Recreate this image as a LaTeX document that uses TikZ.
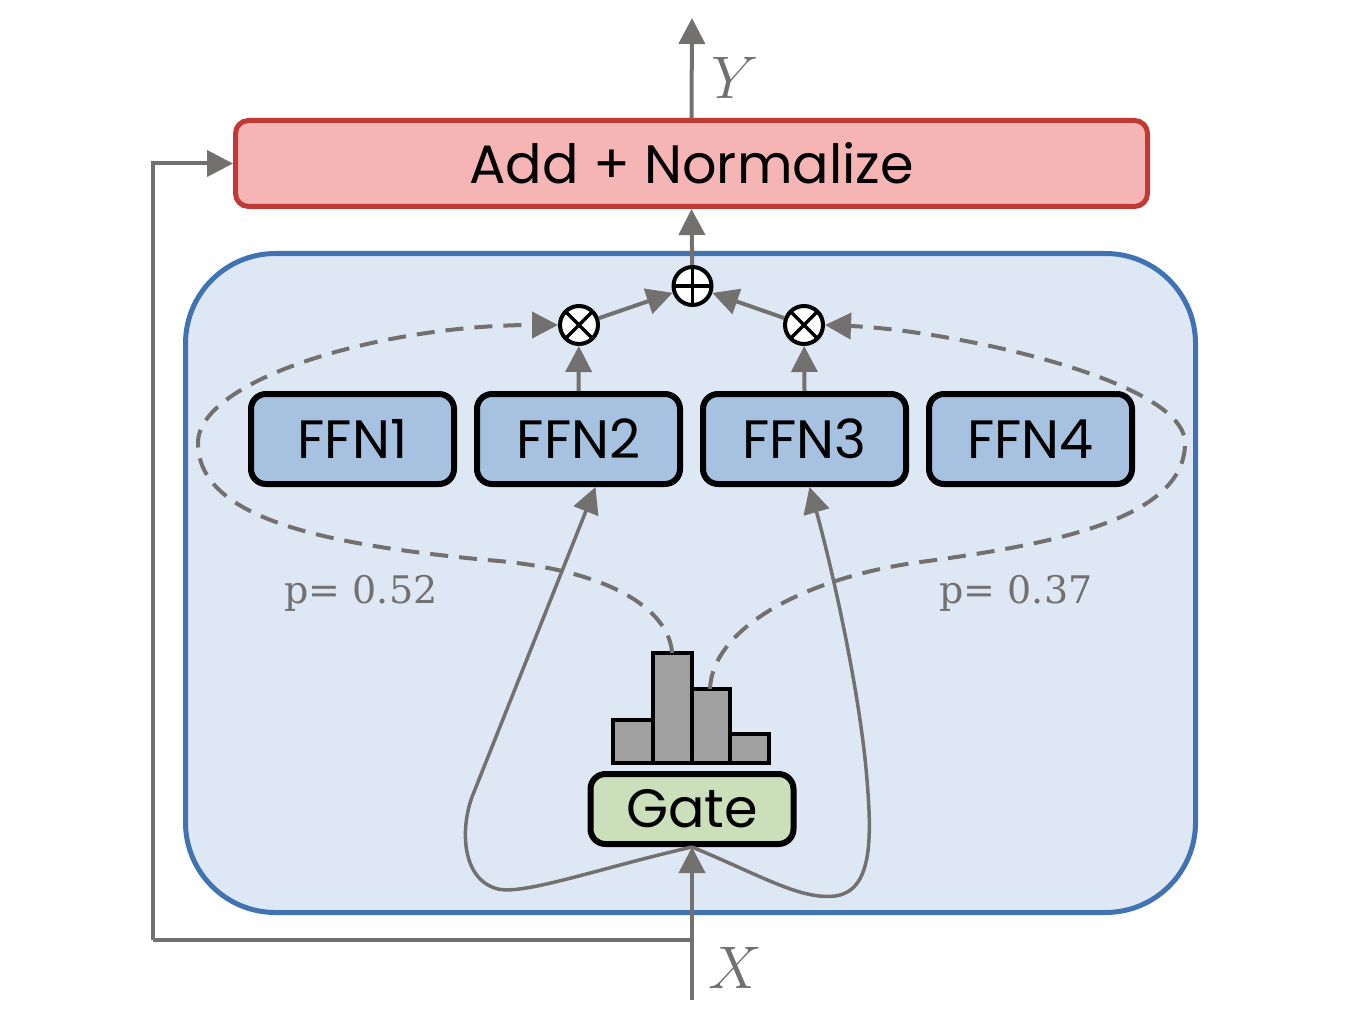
\documentclass[tikz,border=0pt]{standalone}
\usepackage{fontspec}
\newfontfamily\futura{Poppins}
\newfontfamily\pfont{DejaVu Serif}
\usetikzlibrary{arrows.meta}
\definecolor{linegray}{RGB}{115,112,112}
\definecolor{addred}{RGB}{192,57,52}
\definecolor{addfill}{RGB}{245,181,180}
\definecolor{moeblue}{RGB}{65,115,178}
\definecolor{moefill}{RGB}{222,232,245}
\definecolor{ffnfill}{RGB}{166,194,224}
\definecolor{gatefill}{RGB}{203,223,186}
\definecolor{bargray}{RGB}{160,160,160}
\begin{document}
\begin{tikzpicture}[x=1pt,y=-1pt,
  conn/.style={draw=linegray, line width=4pt, -{Triangle[length=26pt,width=26pt]}},
  route/.style={conn, dash pattern=on 18pt off 11pt},
  ffnbox/.style={draw=black, line width=6pt, fill=ffnfill, rounded corners=15pt,
    minimum width=203pt, minimum height=90pt, font=\futura\fontsize{54}{60}\selectfont},
  mult/.style={circle, draw=black, line width=4pt, fill=white, minimum size=38pt, inner sep=0pt},
  lbl/.style={text=linegray, font=\pfont\fontsize{38}{44}\selectfont},
  var/.style={text=linegray, font=\fontsize{20}{24}\selectfont}]
\useasboundingbox (0,0) rectangle (1356,1024);
% MoE block
\draw[moeblue, fill=moefill, line width=5pt, rounded corners=90pt] (185.5,253.5) rectangle (1195.5,912.5);
\node[draw=addred, fill=addfill, line width=5pt, rounded corners=13pt, minimum width=912pt, minimum height=86pt,
  font=\futura\fontsize{54}{60}\selectfont] (add) at (691.5,163.5) {Add + Normalize};
\foreach \i/\x in {1/352.5,2/578.5,3/804.5,4/1030.5}
  \node[ffnbox] (ffn\i) at (\x,439) {FFN\i};
\node[ffnbox, fill=gatefill, minimum height=70pt] (gate) at (692,809) {Gate};
% histogram of gate probabilities
\foreach \a/\b/\t in {613/653/720,653/692/653,692/730/689,730/769/734}
  \draw[black, fill=bargray, line width=4pt] (\a,763) rectangle (\b,\t);
\coordinate (b2) at (672,653);
\coordinate (b3) at (710,689);
\node[mult, path picture={\draw[line width=3.5pt] (path picture bounding box.north west) -- (path picture bounding box.south east)
  (path picture bounding box.south west) -- (path picture bounding box.north east);}] (mulL) at (579,325) {};
\node[mult, path picture={\draw[line width=3.5pt] (path picture bounding box.north west) -- (path picture bounding box.south east)
  (path picture bounding box.south west) -- (path picture bounding box.north east);}] (mulR) at (804,325) {};
\node[mult, path picture={\draw[line width=3.5pt] (path picture bounding box.north) -- (path picture bounding box.south)
  (path picture bounding box.west) -- (path picture bounding box.east);}] (plus) at (692.5,286) {};
% input, skip and output
\coordinate (xin) at (692,1000);
\coordinate (split) at (692,940);
\coordinate (skip) at (153,940);
\coordinate (yout) at (692,18);
\draw[conn] (xin) -- (gate.south);
\draw[conn, -] (split) -- (skip);
\draw[conn] (skip) |- (add.west);
\draw[conn] (add.north) -- (yout);
\draw[conn] (plus) -- (add.south);
\draw[conn] (mulL) -- (plus);
\draw[conn] (mulR) -- (plus);
\draw[conn] (ffn2.north) -- (mulL);
\draw[conn] (ffn3.north) -- (mulR);
% tokens sent to the chosen experts
\draw[conn, line width=3.5pt] (gate.south) .. controls (600,868) and (525,895) .. (498,889)
  .. controls (462,880) and (460,830) .. (472,797) -- ([xshift=17pt]ffn2.south);
\draw[conn, line width=3.5pt] (gate.south) .. controls (760,875) and (800,900) .. (835,896)
  .. controls (872,891) and (872,840) .. (867,780) .. controls (860,690) and (830,560) .. ([xshift=5pt]ffn3.south);
% routing weights
\draw[route] (b2) .. controls (670,615) and (620,570) .. (487,560) .. controls (330,545) and (198,520) .. (198,443)
  .. controls (198,380) and (380,325) .. (mulL.west);
\draw[route] (b3) .. controls (712,630) and (800,580) .. (913,563) .. controls (1050,545) and (1185,520) .. (1185,443)
  .. controls (1185,380) and (950,330) .. (mulR.east);
\node[lbl] (pL) at (361,593) {p= 0.52};
\node[lbl] (pR) at (1016,593) {p= 0.37};
\node[var] (xlab) at (735,968) {\scalebox{2.9}{$X$}};
\node[var] (ylab) at (735,78) {\scalebox{2.9}{$Y$}};
\end{tikzpicture}
\end{document}
